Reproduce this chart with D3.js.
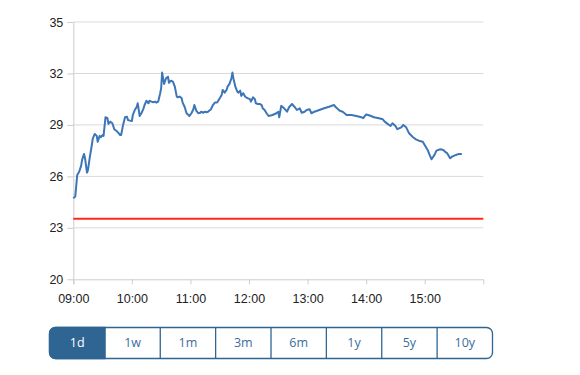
<!DOCTYPE html>
<html>
<head>
<meta charset="utf-8">
<script src="https://cdn.jsdelivr.net/npm/d3@7/dist/d3.min.js"></script>
<style>
  html, body { margin: 0; padding: 0; background: #fff; }
  svg { display: block; font-family: "Open Sans", "Noto Sans", sans-serif; }
</style>
</head>
<body>
<svg id="chart" width="580" height="375"></svg>
<script>
// minutes after 09:00
const minutes = [0,2,4,6,8,9,11,12,14,15,17,19,20,22,24,25,27,28,30,31,33,35,36,38,40,42,44,46,48,49,51,53,55,56,58,60,61,63,65,66,68,70,72,73,75,77,78,80,82,84,85,87,89,90,91,93,95,97,98,100,102,104,106,107,109,111,112,114,116,118,119,121,123,124,126,128,130,131,133,135,136,138,140,141,143,145,147,148,150,152,153,155,157,158,160,162,163,164,166,168,169,171,172,174,176,177,179,181,182,184,186,187,189,191,193,194,196,198,200,204,208,210,211,213,216,219,221,224,227,229,232,234,237,239,242,244,247,252,257,262,267,269,273,276,280,285,290,295,297,300,302,305,308,313,317,319,322,325,327,330,332,336,338,341,344,348,351,354,358,361,363,365,367,370,372,376,379,382,383,386,388,392,395,398];
const prices = [24.72,24.82,26.08,26.27,26.61,26.96,27.31,27.06,26.22,26.37,27.15,27.83,28.22,28.47,28.36,28.02,28.36,28.28,28.41,28.36,29.45,29.39,29.06,29.19,29.10,28.75,28.66,28.55,28.41,28.41,29.00,29.45,29.48,29.29,29.25,29.23,29.58,29.87,30.06,30.26,29.52,29.71,29.97,30.16,30.41,30.26,30.41,30.36,30.32,30.36,30.30,30.36,30.85,31.14,32.05,31.39,31.72,31.81,31.46,31.58,31.52,31.23,30.65,30.61,30.65,30.55,30.30,30.06,29.68,29.58,29.52,29.68,29.91,30.16,29.83,29.68,29.71,29.77,29.71,29.77,29.74,29.77,29.87,29.91,30.16,30.30,30.30,30.36,30.55,30.75,31.04,30.88,31.04,31.23,31.39,31.72,32.05,31.72,31.23,30.94,30.88,31.00,30.69,30.85,30.65,30.61,30.55,30.50,30.36,30.61,30.50,30.26,30.22,30.22,30.16,29.97,29.87,29.68,29.52,29.58,29.68,29.77,29.45,30.11,29.97,29.77,30.03,30.22,30.03,29.87,29.97,29.71,29.77,29.87,29.91,29.68,29.77,29.87,29.97,30.06,30.16,30.03,29.83,29.77,29.58,29.58,29.52,29.45,29.39,29.61,29.58,29.52,29.45,29.39,29.33,29.19,29.06,28.94,29.10,28.94,28.75,28.86,29.00,28.86,28.51,28.28,28.16,28.08,28.02,27.73,27.54,27.25,27.00,27.25,27.50,27.58,27.54,27.38,27.35,27.06,27.15,27.25,27.31,27.31];
const referenceLevel = [23.53];
const yTicks = [20, 23, 26, 29, 32, 35];
const xTickHours = [9, 10, 11, 12, 13, 14, 15];
const ranges = ["1d", "1w", "1m", "3m", "6m", "1y", "5y", "10y"];

const day = new Date(2024, 0, 2);
const at = (h, m) => new Date(day.getFullYear(), day.getMonth(), day.getDate(), h, m);
const open = at(9, 0);
const data = minutes.map((m, i) => ({ t: d3.timeMinute.offset(open, m), v: prices[i] }));

const svg = d3.select("#chart");
const x = d3.scaleTime().domain([at(9, 0), at(16, 0)]).range([73.3, 483.3]);
const y = d3.scaleLinear().domain([20, 35]).range([279.3, 22]);

// gridlines
svg.append("g")
  .selectAll("line").data(yTicks.slice(1)).join("line")
  .attr("x1", x.range()[0]).attr("x2", x.range()[1])
  .attr("y1", d => y(d)).attr("y2", d => y(d))
  .attr("stroke", "#d9d9d9").attr("stroke-width", 1);

// y axis
const yAxis = svg.append("g")
  .attr("transform", `translate(${x.range()[0]},0)`)
  .call(d3.axisLeft(y).tickValues(yTicks).tickSize(6).tickPadding(4).tickSizeOuter(0));
yAxis.select(".domain").attr("stroke", "#cccccc");
yAxis.selectAll(".tick line").attr("stroke", "#cccccc");
yAxis.selectAll(".tick text").attr("fill", "#222").style("font-size", "12.5px");

// x axis
const xAxis = svg.append("g")
  .attr("transform", `translate(0,${y.range()[0]})`)
  .call(d3.axisBottom(x).tickValues(xTickHours.map(h => at(h, 0)))
    .tickFormat(d3.timeFormat("%H:%M")).tickSizeInner(5).tickSizeOuter(5).tickPadding(10));
xAxis.select(".domain").attr("stroke", "#cccccc");
xAxis.selectAll(".tick line").attr("stroke", "#cccccc");
xAxis.selectAll(".tick text").attr("fill", "#222").style("font-size", "12.5px");

// reference line
svg.append("g")
  .selectAll("line").data(referenceLevel).join("line")
  .attr("x1", x.range()[0]).attr("x2", x.range()[1])
  .attr("y1", d => y(d)).attr("y2", d => y(d))
  .attr("stroke", "#ff2a1a").attr("stroke-width", 2);

// price line
svg.append("path")
  .datum(data)
  .attr("fill", "none")
  .attr("stroke", "#3d76b8")
  .attr("stroke-width", 2)
  .attr("stroke-linejoin", "round")
  .attr("d", d3.line().x(d => x(d.t)).y(d => y(d.v)));

// range buttons
const bx = d3.scaleBand().domain(ranges).range([49.5, 492.5]);
const by = 327.5, bh = 31;
const btnColor = "#2e6593";
const g = svg.append("g");
// outer rounded border
g.append("rect")
  .attr("x", bx.range()[0]).attr("y", by)
  .attr("width", bx.range()[1] - bx.range()[0]).attr("height", bh)
  .attr("rx", 6).attr("fill", "#fff").attr("stroke", btnColor).attr("stroke-width", 1.3);
// selected first button (rounded on left only)
const x0 = bx(ranges[0]), w0 = bx.bandwidth(), r = 6;
g.append("path")
  .attr("d", `M${x0 + r},${by} H${x0 + w0} V${by + bh} H${x0 + r} A${r},${r} 0 0 1 ${x0},${by + bh - r} V${by + r} A${r},${r} 0 0 1 ${x0 + r},${by} Z`)
  .attr("fill", btnColor).attr("stroke", btnColor).attr("stroke-width", 1.3);
// dividers
g.selectAll("line.div").data(ranges.slice(1)).join("line")
  .attr("class", "div")
  .attr("x1", d => bx(d)).attr("x2", d => bx(d))
  .attr("y1", by).attr("y2", by + bh)
  .attr("stroke", btnColor).attr("stroke-width", 1.3);
// labels
g.selectAll("text").data(ranges).join("text")
  .attr("x", d => bx(d) + bx.bandwidth() / 2)
  .attr("y", by + bh / 2)
  .attr("dy", "0.35em")
  .attr("text-anchor", "middle")
  .style("font-size", "12.5px")
  .attr("fill", (d, i) => i === 0 ? "#ffffff" : "#3a6d9c")
  .text(d => d);
</script>
</body>
</html>
